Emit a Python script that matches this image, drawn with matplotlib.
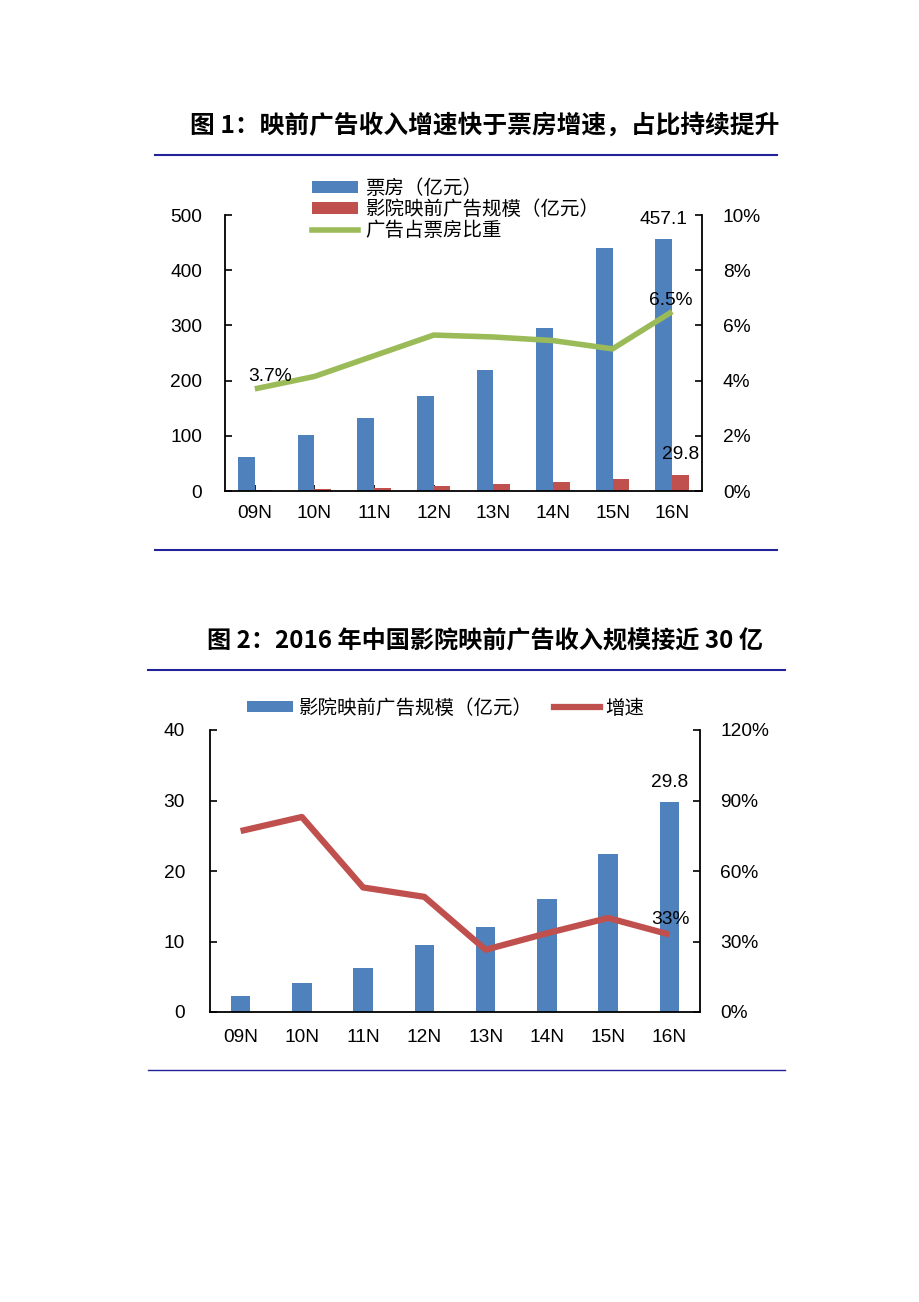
import matplotlib
matplotlib.use("Agg")
import matplotlib.pyplot as plt
import numpy as np
from matplotlib.lines import Line2D
from matplotlib.patches import Patch
from matplotlib.ticker import FuncFormatter

plt.rcParams['font.family'] = ['Liberation Sans', 'Noto Sans CJK SC']

# ---------------- data ----------------
categories = ['09N', '10N', '11N', '12N', '13N', '14N', '15N', '16N']
box_office = [62, 102, 132, 172, 219, 296, 440, 457.1]          # 票房（亿元）
ad_revenue = [2.2, 4.1, 6.3, 9.5, 12.0, 16.0, 22.4, 29.8]      # 影院映前广告规模（亿元）
ad_share = [3.7, 4.15, 4.9, 5.65, 5.58, 5.45, 5.15, 6.5]       # 广告占票房比重 (%)
ad_growth = [77, 83, 53, 49, 26.5, 33.5, 40, 33]               # 增速 (%)

title1 = '图 1：映前广告收入增速快于票房增速，占比持续提升'
title2 = '图 2：2016 年中国影院映前广告收入规模接近 30 亿'
legend1 = ['票房（亿元）', '影院映前广告规模（亿元）', '广告占票房比重']
legend2 = ['影院映前广告规模（亿元）', '增速']

BLUE = '#4F81BD'
RED = '#C0504D'
GREEN = '#9BBB59'
RULE = '#22229A'
FS = 13.8

W, H = 920, 1302
fig = plt.figure(figsize=(W / 100, H / 100), dpi=100)
fig.patch.set_facecolor('white')

def fx(px):
    return px / W

def fy(py):
    return 1 - py / H

def style_axes(ax, axr, lpad, rpad):
    for a in (ax, axr):
        a.spines['top'].set_visible(False)
    ax.spines['right'].set_visible(False)
    axr.spines['left'].set_visible(False)
    axr.spines['bottom'].set_visible(False)
    for s in ('left', 'bottom'):
        ax.spines[s].set_linewidth(1.3)
    axr.spines['right'].set_linewidth(1.3)
    ax.tick_params(axis='y', direction='in', length=5, width=1.2, labelsize=FS, pad=lpad)
    ax.tick_params(axis='x', direction='in', length=4, width=1.2, labelsize=FS, pad=10)
    axr.tick_params(axis='y', direction='in', length=5, width=1.2, labelsize=FS, pad=rpad)

pct = FuncFormatter(lambda v, p: f'{v:.0f}%')

# ---------------- chart 1 ----------------
fig.text(fx(485), fy(125), title1, ha='center', va='center', fontsize=17.8,
         fontweight='bold', family=['Noto Sans CJK SC'])
fig.add_artist(Line2D([fx(155), fx(777)], [fy(155), fy(155)], color=RULE, lw=1.5))
fig.add_artist(Line2D([fx(155), fx(777)], [fy(550), fy(550)], color=RULE, lw=1.5))

ax1 = fig.add_axes([fx(225), fy(491), fx(702) - fx(225), fy(215) - fy(491)])
x = np.arange(len(categories))
ax1.bar(x - 0.14, box_office, width=0.28, color=BLUE, zorder=2)
ax1.bar(x + 0.14, ad_revenue, width=0.28, color=RED, zorder=2)
ax1.set_xlim(-0.5, 7.5)
ax1.set_ylim(0, 500)
ax1.set_yticks(range(0, 501, 100))
ax1.set_xticks(x)
ax1.set_xticklabels(categories)
ax1r = ax1.twinx()
ax1r.plot(x, ad_share, color=GREEN, lw=4, solid_capstyle='butt', zorder=3)
ax1r.set_ylim(0, 10)
ax1r.set_yticks(range(0, 11, 2))
ax1r.yaxis.set_major_formatter(pct)
style_axes(ax1, ax1r, 16.5, 15)

ax1.annotate(f'{box_office[-1]:.1f}', (x[-1] - 0.14, box_office[-1]), xytext=(0, 8),
             textcoords='offset points', ha='center', va='bottom', fontsize=FS)
ax1.annotate(f'{ad_revenue[-1]:.1f}', (x[-1] + 0.14, ad_revenue[-1]), xytext=(0, 8),
             textcoords='offset points', ha='center', va='bottom', fontsize=FS)
ax1r.annotate(f'{ad_share[0]:.1f}%', (x[0], ad_share[0]), xytext=(11, 3),
              textcoords='offset points', ha='center', va='bottom', fontsize=FS)
ax1r.annotate(f'{ad_share[-1]:.1f}%', (x[-1], ad_share[-1]), xytext=(-1, 2),
              textcoords='offset points', ha='center', va='bottom', fontsize=FS)

h1 = [Patch(facecolor=BLUE), Patch(facecolor=RED), Line2D([0], [0], color=GREEN, lw=4)]
fig.legend(h1, legend1, loc='upper left', bbox_to_anchor=(fx(312), fy(178)),
           frameon=False, prop={'family': ['Noto Sans CJK SC'], 'size': 14},
           handlelength=2.35, handleheight=0.55, handletextpad=0.4,
           labelspacing=0.0, borderpad=0, borderaxespad=0)

# ---------------- chart 2 ----------------
fig.text(fx(485), fy(641), title2, ha='center', va='center', fontsize=17.4,
         fontweight='bold', family=['Noto Sans CJK SC'])
fig.add_artist(Line2D([fx(148), fx(785)], [fy(670), fy(670)], color=RULE, lw=1.5))
fig.add_artist(Line2D([fx(148), fx(785)], [fy(1070), fy(1070)], color=RULE, lw=1.0))

ax2 = fig.add_axes([fx(210), fy(1012), fx(700) - fx(210), fy(730) - fy(1012)])
ax2.bar(x, ad_revenue, width=0.32, color=BLUE, zorder=2)
ax2.set_xlim(-0.5, 7.5)
ax2.set_ylim(0, 40)
ax2.set_yticks(range(0, 41, 10))
ax2.set_xticks(x)
ax2.set_xticklabels(categories)
ax2r = ax2.twinx()
ax2r.plot(x, ad_growth, color=RED, lw=4.5, solid_capstyle='butt', zorder=3)
ax2r.set_ylim(0, 120)
ax2r.set_yticks(range(0, 121, 30))
ax2r.yaxis.set_major_formatter(pct)
style_axes(ax2, ax2r, 18, 14.5)
ax2.tick_params(axis='x', pad=12)

ax2.annotate(f'{ad_revenue[-1]:.1f}', (x[-1], ad_revenue[-1]), xytext=(0, 8),
             textcoords='offset points', ha='center', va='bottom', fontsize=FS)
ax2r.annotate(f'{ad_growth[-1]:.0f}%', (x[-1], ad_growth[-1]), xytext=(1, 5),
              textcoords='offset points', ha='center', va='bottom', fontsize=FS)

h2 = [Patch(facecolor=BLUE), Line2D([0], [0], color=RED, lw=4.5)]
fig.legend(h2, legend2, loc='center left', bbox_to_anchor=(fx(247), fy(708)), ncol=2,
           frameon=False, prop={'family': ['Noto Sans CJK SC'], 'size': 14},
           handlelength=2.35, handleheight=0.55, handletextpad=0.3,
           columnspacing=1.1, borderpad=0, borderaxespad=0)

fig.savefig('out.png', dpi=100, facecolor='white')
